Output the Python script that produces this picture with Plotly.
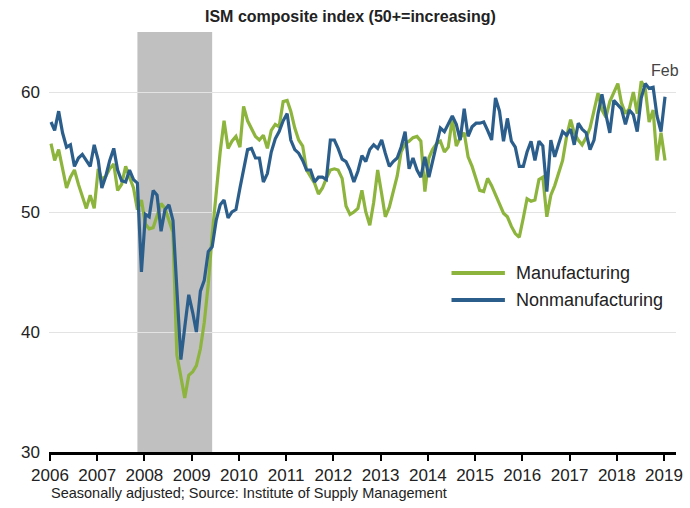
import pandas as pd
import plotly.graph_objects as go

# ---------------- data ----------------
months = pd.date_range("2006-02-01", "2019-02-01", freq="MS")

manufacturing = [
    55.7, 54.3, 55.2, 53.6, 52.0, 52.9, 53.5, 52.3, 51.3, 50.3, 51.4, 50.3,
    53.6, 52.7, 53.0, 53.6, 54.0, 51.8, 52.3, 53.8, 52.9, 52.0, 50.2, 51.0,
    49.0, 48.6, 48.7, 49.6, 50.7, 50.3, 49.3, 48.3, 38.1, 36.3, 34.5, 36.4,
    36.7, 37.2, 38.6, 40.8, 44.0, 48.1, 51.8, 55.0, 57.6, 55.3, 55.9, 56.3,
    55.4, 58.8, 57.6, 57.0, 56.3, 56.0, 56.4, 55.3, 56.8, 57.3, 57.1, 59.2,
    59.3, 58.4, 57.0, 56.0, 55.5, 53.5, 53.0, 52.4, 51.5, 52.0, 52.8, 53.5,
    53.6, 53.5, 52.8, 50.5, 49.8, 50.0, 50.3, 51.8, 50.0, 48.9, 50.8, 53.5,
    51.5, 49.6, 50.4, 51.6, 53.0, 55.0, 55.7, 55.9, 56.2, 56.3, 55.9, 51.7,
    54.5, 55.2, 55.7, 55.9, 55.0, 55.4, 57.8, 55.5, 56.2, 56.6, 54.6, 53.8,
    52.7, 51.8, 51.7, 52.8, 52.2, 51.4, 50.6, 49.9, 49.6, 48.8, 48.2, 47.9,
    49.5, 51.1, 50.9, 51.0, 52.7, 52.9, 49.6, 51.4, 52.2, 53.2, 54.3, 56.3,
    57.7, 56.6, 56.0, 55.6, 56.2, 57.0, 58.6, 59.9, 58.5, 57.9, 59.2, 59.9,
    60.7, 59.1, 58.2, 58.6, 60.0, 58.2, 60.9, 60.3, 57.5, 58.5, 54.3, 56.6, 54.3,
]

nonmanufacturing = [
    57.5, 56.8, 58.4, 56.6, 55.4, 55.6, 53.8, 54.5, 54.8, 54.3, 53.8, 55.6,
    54.3, 52.0, 53.0, 54.3, 55.3, 53.5, 52.6, 52.5, 53.5, 52.7, 52.4, 45.0,
    49.8, 49.6, 51.8, 51.4, 48.4, 50.2, 50.6, 49.3, 43.5, 37.7, 40.4, 43.1,
    41.6, 40.0, 43.4, 44.3, 46.7, 47.1, 49.3, 50.6, 51.0, 49.5, 50.0, 50.2,
    52.0, 53.5, 55.2, 55.3, 54.5, 54.5, 52.5, 53.2, 55.0, 56.1, 56.7, 57.6,
    58.2, 56.0, 55.2, 54.9, 54.3, 53.5, 53.5, 52.5, 52.9, 52.9, 52.7, 56.0,
    56.0, 55.3, 54.4, 54.2, 53.5, 52.5, 53.4, 54.7, 54.2, 55.2, 55.6, 55.3,
    56.0, 54.9, 53.8, 54.2, 54.5, 55.4, 56.7, 53.6, 54.5, 53.5, 52.9, 54.6,
    52.9, 54.2, 55.7, 57.0, 56.7, 57.3, 58.0, 57.3, 56.0, 58.6, 56.3, 57.1,
    57.4, 57.4, 57.5, 56.8, 56.0, 59.5, 58.4, 55.9, 57.8, 55.9, 55.4, 53.8,
    53.8, 55.0, 55.9, 54.3, 55.9, 55.5, 51.7, 56.0, 54.6, 55.7, 56.7, 56.4,
    56.9, 55.6, 57.4, 56.9, 56.6, 55.2, 56.0, 58.2, 59.8, 58.1, 56.6, 59.3,
    58.9, 58.6, 57.3, 58.5, 58.1, 56.7, 59.5, 60.7, 60.3, 60.4, 58.0, 56.7, 59.6,
]

years = list(range(2006, 2020))
y_ticks = [30, 40, 50, 60]
recession = ("2007-12-01", "2009-07-01")
series_names = ["Manufacturing", "Nonmanufacturing"]
colors = ["#8DB43C", "#2C5E8C"]

# ---------------- layout geometry ----------------
W, H = 690, 508
L, R, T, B = 49, 7, 32, 56
pw, ph = W - L - R, H - T - B
base = pd.Timestamp("2006-01-01")
ppd = 3.98 / 30.4375  # pixels per day
fmt = "%Y-%m-%d %H:%M:%S"
x_left = (base + pd.Timedelta(days=(L - 47) / ppd)).strftime(fmt)
x_right = (base + pd.Timedelta(days=(W - R - 47) / ppd)).strftime(fmt)
tickvals = [f"{y}-01-24" for y in years]


def px(xp):
    return (xp - L) / pw


def py(yp):
    return (H - B - yp) / ph


FONT = "Liberation Sans, Arial, sans-serif"

fig = go.Figure()
for name, vals, col in zip(series_names, [manufacturing, nonmanufacturing], colors):
    fig.add_trace(go.Scatter(
        x=months, y=vals, mode="lines", name=name,
        line=dict(color=col, width=3.2), showlegend=False, hoverinfo="skip",
    ))

fig.add_shape(type="rect", xref="x", yref="paper",
              x0=recession[0], x1=recession[1], y0=0, y1=1,
              fillcolor="#C0C0C0", line=dict(width=0), layer="between")

# manual legend
for i, (name, col) in enumerate(zip(series_names, colors)):
    yy = 273 + 27 * i
    fig.add_shape(type="line", xref="paper", yref="paper",
                  x0=px(456), x1=px(510), y0=py(yy), y1=py(yy),
                  line=dict(color=col, width=4))
    fig.add_annotation(xref="paper", yref="paper", x=px(519), y=py(yy),
                       text=name, showarrow=False, xanchor="left", yanchor="middle",
                       font=dict(family=FONT, size=18, color="#222222"))

fig.add_annotation(xref="paper", yref="paper", x=px(354), y=py(17),
                   text="<b>ISM composite index (50+=increasing)</b>", showarrow=False,
                   xanchor="center", yanchor="middle",
                   font=dict(family=FONT, size=16, color="#222222"))
fig.add_annotation(xref="paper", yref="paper", x=px(49), y=py(493),
                   text="Seasonally adjusted; Source: Institute of Supply Management",
                   showarrow=False, xanchor="left", yanchor="middle",
                   font=dict(family=FONT, size=14.5, color="#222222"))
fig.add_annotation(xref="paper", yref="paper", x=px(656), y=py(70),
                   text="Feb", showarrow=False, xanchor="left", yanchor="middle",
                   font=dict(family=FONT, size=16, color="#444444"))

fig.update_layout(
    width=W, height=H,
    margin=dict(l=L, r=R, t=T, b=B, pad=0),
    paper_bgcolor="white", plot_bgcolor="white",
    font=dict(family=FONT, size=17, color="#222222"),
    xaxis=dict(
        type="date", range=[x_left, x_right],
        tickmode="array", tickvals=tickvals, ticktext=[str(y) for y in years],
        ticks="outside", ticklen=6, tickwidth=1.5, tickcolor="black",
        showline=True, linecolor="black", linewidth=2.5,
        showgrid=False, zeroline=False,
        tickfont=dict(size=17, color="#222222"),
    ),
    yaxis=dict(
        range=[30, 65], tickmode="array", tickvals=y_ticks,
        showgrid=True, gridcolor="#E3E3E3", gridwidth=1,
        zeroline=False, showline=False, ticks="",
        ticklabelstandoff=8,
        tickfont=dict(size=17, color="#222222"),
    ),
)

fig.write_html("out.html", config={"displayModeBar": False},
               post_script="document.body.style.margin='0';document.body.style.overflow='hidden';")
